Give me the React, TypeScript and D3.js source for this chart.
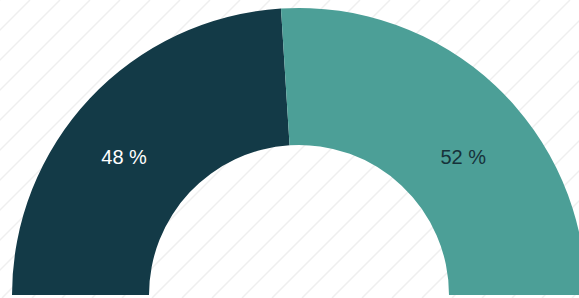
import React from "react";
import * as d3 from "d3";

const categories = ["A", "B"];
const values = [48, 52];
const labels = ["48 %", "52 %"];
const colors = ["#133a47", "#4c9f97"];
const labelColors = ["#ffffff", "#16323a"];

const W = 579;
const H = 298;

export default function App() {
  const cx = 299;
  const cy = 295;
  const R = 287;
  const r = 150;
  const pie = d3
    .pie<number>()
    .sort(null)
    .startAngle(-Math.PI / 2)
    .endAngle(Math.PI / 2);
  const arcs = pie(values);
  const arc = d3.arc<d3.PieArcDatum<number>>().innerRadius(r).outerRadius(R);
  const labelR = 240;
  const labelY = -((R + r) / 2) * 0.632;
  const stripes = d3.range(-H, W + H, 30);
  return (
    <svg
      width={W}
      height={H}
      style={{ position: "absolute", left: 0, top: 0, background: "#fff" }}
    >
      <defs>
        <clipPath id="clip">
          <rect x={0} y={0} width={W} height={H} />
        </clipPath>
      </defs>
      <g clipPath="url(#clip)">
        {stripes.map((s, i) => (
          <line
            key={i}
            x1={s}
            y1={H}
            x2={s + H}
            y2={0}
            stroke="#efefef"
            strokeWidth={1.5}
          />
        ))}
      </g>
      <g transform={`translate(${cx},${cy})`}>
        {arcs.map((d, i) => (
          <path key={categories[i]} d={arc(d) || ""} fill={colors[i]} />
        ))}
        {arcs.map((d, i) => {
          const mid = (d.startAngle + d.endAngle) / 2;
          const x = labelR * Math.sin(mid);
          return (
            <text
              key={"l" + i}
              x={x}
              y={labelY}
              textAnchor="middle"
              dominantBaseline="central"
              fontFamily="Liberation Sans, Arial, sans-serif"
              fontSize={20}
              fill={labelColors[i]}
            >
              {labels[i]}
            </text>
          );
        })}
      </g>
    </svg>
  );
}
